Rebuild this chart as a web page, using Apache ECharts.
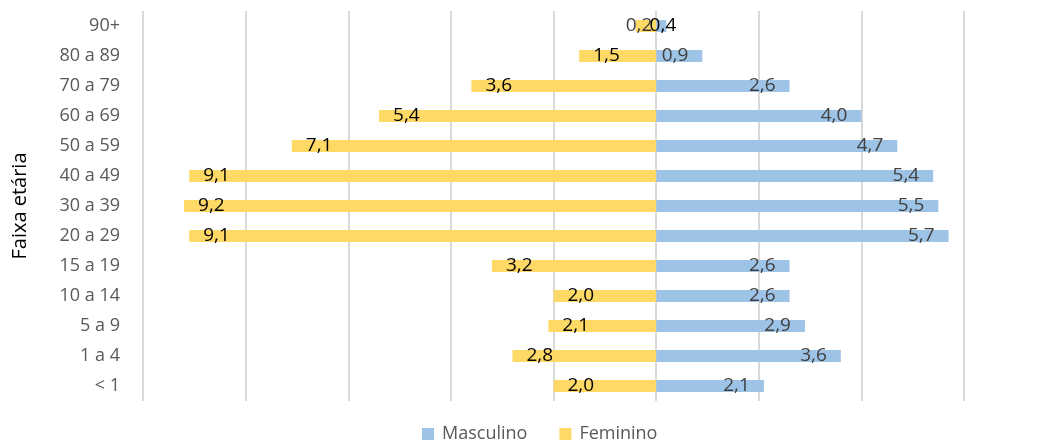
<!DOCTYPE html>
<html>
<head>
<meta charset="utf-8">
<script src="https://cdn.jsdelivr.net/npm/echarts@6/dist/echarts.min.js"></script>
<style>html,body{margin:0;padding:0;background:#fff}#c{width:1054px;height:442px}</style>
</head>
<body>
<div id="c"></div>
<script>
const categories = ['90+', '80 a 89', '70 a 79', '60 a 69', '50 a 59', '40 a 49', '30 a 39', '20 a 29', '15 a 19', '10 a 14', '5 a 9', '1 a 4', '< 1'];
const masculino = [0.2, 0.9, 2.6, 4.0, 4.7, 5.4, 5.5, 5.7, 2.6, 2.6, 2.9, 3.6, 2.1];
const feminino = [0.4, 1.5, 3.6, 5.4, 7.1, 9.1, 9.2, 9.1, 3.2, 2.0, 2.1, 2.8, 2.0];
const axisTitle = 'Faixa etária';

const fmt = p => Math.abs(p.value).toFixed(1).replace('.', ',');
const FONT = '"Open Sans", sans-serif';

const chart = echarts.init(document.getElementById('c'));
chart.setOption({
  animation: false,
  textStyle: { fontFamily: FONT },
  grid: { left: 143, right: 90, top: 11, bottom: 41, containLabel: false, outerBoundsMode: 'none' },
  legend: {
    top: 420, left: 417,
    itemWidth: 12, itemHeight: 12, itemGap: 32,
    icon: 'rect',
    textStyle: { color: '#595959', fontSize: 18, fontFamily: FONT, padding: [0, 0, 0, 3] },
    data: ['Masculino', 'Feminino']
  },
  xAxis: {
    type: 'value', min: -10, max: 6, interval: 2,
    axisLabel: { show: false },
    axisLine: { show: false }, axisTick: { show: false },
    splitLine: { show: true, lineStyle: { color: '#d9d9d9', width: 2 } }
  },
  yAxis: {
    type: 'category', data: categories, inverse: true,
    name: axisTitle, nameLocation: 'middle', nameGap: 113, nameRotate: 90,
    nameTextStyle: { color: '#000', fontSize: 20, fontFamily: FONT },
    axisLine: { show: false }, axisTick: { show: false },
    axisLabel: { color: '#595959', fontSize: 18, margin: 23, fontFamily: FONT }
  },
  series: [
    {
      name: 'Masculino', type: 'bar', stack: 'p', barWidth: 12,
      itemStyle: { color: '#9DC3E6' },
      label: { show: true, position: 'insideRight', distance: 14, formatter: fmt, color: '#404040', fontSize: 19, fontFamily: FONT },
      data: masculino
    },
    {
      name: 'Feminino', type: 'bar', stack: 'p', barWidth: 12,
      itemStyle: { color: '#FFD966' },
      label: { show: true, position: 'insideLeft', distance: 14, formatter: fmt, color: '#000', fontSize: 19, fontFamily: FONT },
      data: feminino.map(v => -v)
    }
  ]
});
</script>
</body>
</html>
